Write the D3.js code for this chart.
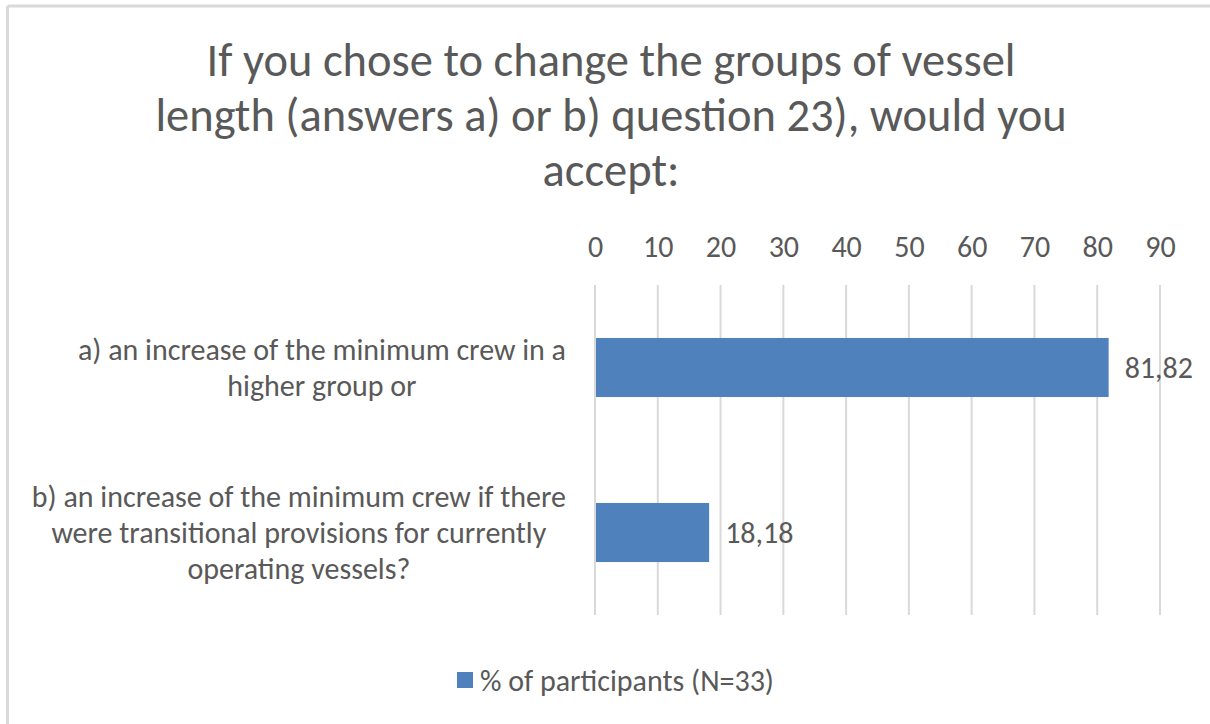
<!DOCTYPE html>
<html>
<head>
<meta charset="utf-8">
<script src="https://cdn.jsdelivr.net/npm/d3@7"></script>
<style>
  html, body { margin: 0; padding: 0; background: #fff; }
  svg { display: block; }
  text { font-family: Carlito, Calibri, Lato, sans-serif; fill: #595959; }
</style>
</head>
<body>
<svg id="chart" width="1210" height="724"></svg>
<script>
// Survey answers and their shares
const categories = [
  ["a) an increase of the minimum crew in a", "higher group or"],
  ["b) an increase of the minimum crew if there", "were transitional provisions for currently", "operating vessels?"]
];
const values = [81.82, 18.18];
const valueLabels = ["81,82", "18,18"];
const ticks = [0, 10, 20, 30, 40, 50, 60, 70, 80, 90];
const titleLines = [
  "If you chose to change the groups of vessel",
  "length (answers a) or b) question 23), would you",
  "accept:"
];
const seriesName = "% of participants (N=33)";

const svg = d3.select("#chart");
const W = 1210, H = 724;
const barColor = "#4f81bd";
const gridColor = "#d9d9d9";
const fontFamily = "Carlito, Calibri, Lato, sans-serif";
const labelSize = 30;

// chart frame (top and left edges)
svg.append("line").attr("x1", 7.5).attr("x2", W).attr("y1", 6).attr("y2", 6)
  .attr("stroke", gridColor).attr("stroke-width", 3);
svg.append("line").attr("x1", 7.5).attr("x2", 7.5).attr("y1", 6).attr("y2", H)
  .attr("stroke", gridColor).attr("stroke-width", 3);

// title
svg.append("g").selectAll("text").data(titleLines).join("text")
  .attr("x", 611).attr("y", (d, i) => 76 + i * 55)
  .attr("text-anchor", "middle")
  .attr("font-size", 46.5)
  .text(d => d);

const plot = { left: 595, right: 1160, top: 285, bottom: 615 };
const x = d3.scaleLinear().domain([0, 90]).range([plot.left, plot.right]);
const y = d3.scaleBand().domain(d3.range(categories.length))
  .range([plot.top, plot.bottom]).paddingInner(0.642).paddingOuter(0.321);

// gridlines
svg.append("g").selectAll("line").data(ticks).join("line")
  .attr("x1", d => x(d)).attr("x2", d => x(d))
  .attr("y1", plot.top).attr("y2", plot.bottom)
  .attr("stroke", gridColor).attr("stroke-width", 2);

// top axis labels
const axis = d3.axisTop(x).tickValues(ticks).tickSize(0).tickPadding(0);
const ag = svg.append("g").attr("transform", "translate(0,257)").call(axis);
ag.select(".domain").remove();
ag.selectAll("text").attr("font-size", labelSize).attr("fill", "#595959")
  .style("font-family", fontFamily);

// bars
svg.append("g").selectAll("rect").data(values).join("rect")
  .attr("x", x(0) + 1).attr("y", (d, i) => y(i))
  .attr("width", d => x(d) - x(0) - 1).attr("height", y.bandwidth())
  .attr("fill", barColor);

// value labels
svg.append("g").selectAll("text").data(values).join("text")
  .attr("x", d => x(d) + 16).attr("y", (d, i) => y(i) + y.bandwidth() / 2)
  .attr("dy", "0.35em").attr("font-size", labelSize)
  .text((d, i) => valueLabels[i]);

// category labels: wrapped lines centred inside a box whose right edge is fixed
const labelRight = 566;
const catG = svg.append("g");
categories.forEach((lines, i) => {
  const cy = y(i) + y.bandwidth() / 2;
  const lh = 36;
  const t = catG.append("text").attr("text-anchor", "middle").attr("font-size", labelSize);
  const spans = lines.map((ln, j) => t.append("tspan")
    .attr("y", cy + (j - (lines.length - 1) / 2) * lh)
    .attr("dy", "0.35em").text(ln));
  const maxW = d3.max(spans, s => s.node().getComputedTextLength());
  spans.forEach(s => s.attr("x", labelRight - maxW / 2));
});

// legend
const lg = svg.append("g");
lg.append("rect").attr("x", 457).attr("y", 672).attr("width", 16).attr("height", 16).attr("fill", barColor);
lg.append("text").attr("x", 480).attr("y", 680).attr("dy", "0.35em").attr("font-size", labelSize).text(seriesName);
</script>
</body>
</html>
